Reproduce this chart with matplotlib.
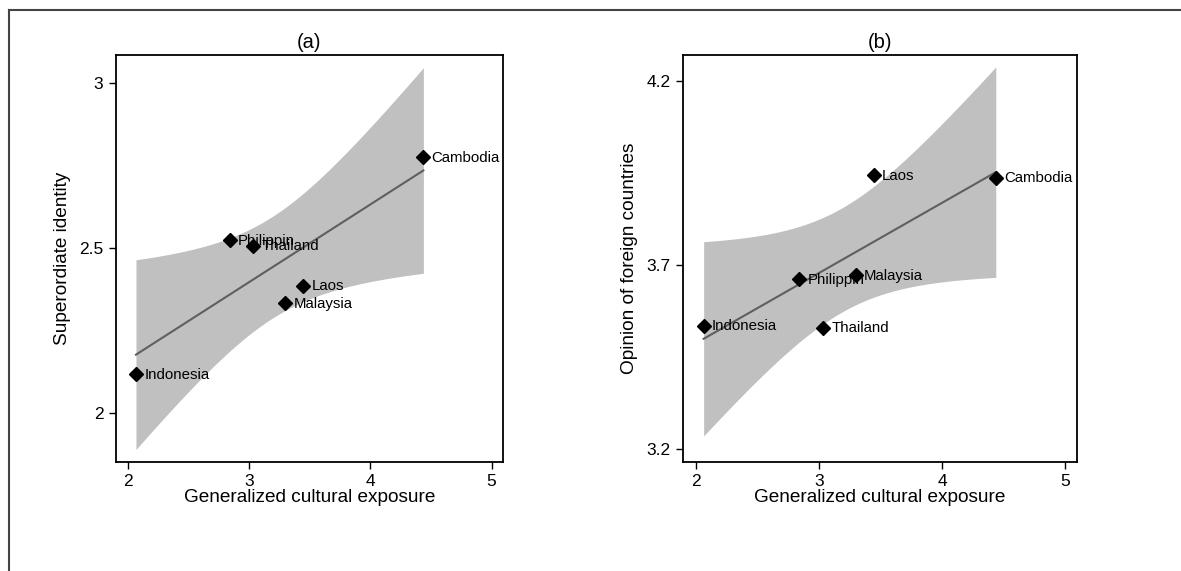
import numpy as np
import matplotlib.pyplot as plt

plt.rcParams['font.family'] = ['Liberation Sans', 'DejaVu Sans']

countries = ['Indonesia', 'Philippin', 'Thailand', 'Malaysia', 'Laos', 'Cambodia']
exposure = [2.065, 2.84, 3.033, 3.298, 3.445, 4.437]
superordinate = [2.119, 2.524, 2.507, 2.334, 2.386, 2.776]
opinion = [3.535, 3.662, 3.530, 3.672, 3.944, 3.937]

T_CRIT = 2.7764  # t(0.975, df=4)


def fit_ci(x, y, grid):
    x = np.asarray(x)
    y = np.asarray(y)
    n = len(x)
    xm = x.mean()
    sxx = ((x - xm) ** 2).sum()
    b = ((x - xm) * (y - y.mean())).sum() / sxx
    a = y.mean() - b * xm
    s = np.sqrt(((y - (a + b * x)) ** 2).sum() / (n - 2))
    yhat = a + b * grid
    se = s * np.sqrt(1.0 / n + (grid - xm) ** 2 / sxx)
    return yhat, yhat - T_CRIT * se, yhat + T_CRIT * se


def panel(ax, y, title, ylabel, yticks, ylim):
    grid = np.linspace(min(exposure), max(exposure), 200)
    yhat, lo, hi = fit_ci(exposure, y, grid)
    ax.fill_between(grid, lo, hi, color='#c0c0c0', lw=0)
    ax.plot(grid, yhat, color='#5f5f5f', lw=1.5)
    ax.plot(exposure, y, 'D', color='black', ms=7, ls='none')
    for name, xv, yv in zip(countries, exposure, y):
        ax.annotate(name, (xv, yv), xytext=(6, -0.5), textcoords='offset points',
                    va='center', ha='left', fontsize=10.8)
    ax.set_xlim(1.9, 5.094)
    ax.set_ylim(*ylim)
    ax.set_xticks([2, 3, 4, 5])
    ax.set_yticks(yticks)
    ax.set_yticklabels([str(t) for t in yticks])
    ax.tick_params(direction='out', length=5, width=1, labelsize=12.5,
                   top=False, right=False, pad=4)
    for sp in ax.spines.values():
        sp.set_linewidth(1.3)
    ax.set_title(title, fontsize=14.5, pad=5)
    ax.set_xlabel('Generalized cultural exposure', fontsize=13.7, labelpad=0)
    ax.set_ylabel(ylabel, fontsize=13.7, labelpad=6)


fig = plt.figure(figsize=(11.81, 5.71), dpi=100)

ax1 = fig.add_axes([0.0982, 0.1909, 0.3277, 0.7128])
panel(ax1, superordinate, '(a)', 'Superordiate identity', [2, 2.5, 3], (1.853, 3.084))

ax2 = fig.add_axes([0.5786, 0.1909, 0.3331, 0.7128])
panel(ax2, opinion, '(b)', 'Opinion of foreign countries', [3.2, 3.7, 4.2], (3.165, 4.27))

# outer frame (top and left edges only)
fig.add_artist(plt.Line2D([9 / 1181, 1], [1 - 10 / 571, 1 - 10 / 571],
                          transform=fig.transFigure, color='#444444', lw=1.5))
fig.add_artist(plt.Line2D([9 / 1181, 9 / 1181], [0, 1 - 10 / 571],
                          transform=fig.transFigure, color='#444444', lw=1.5))

fig.savefig('out.png', dpi=100)
